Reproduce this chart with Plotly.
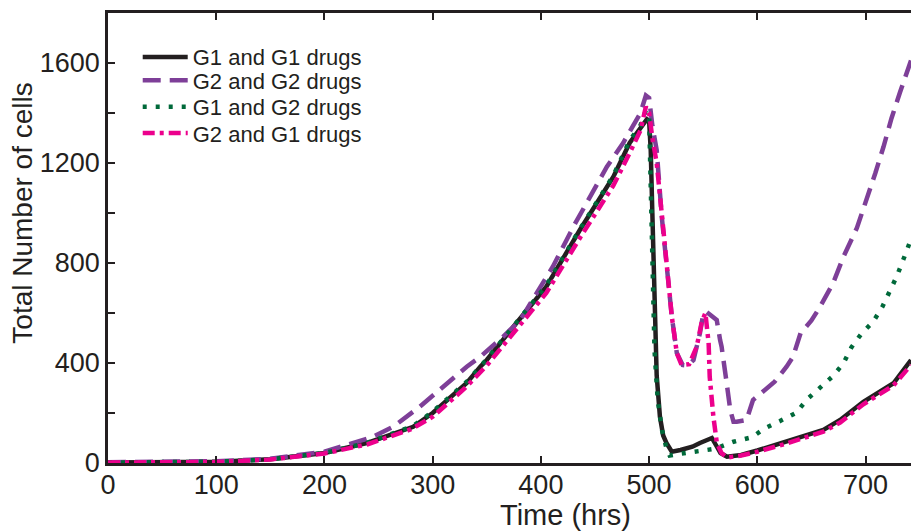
import plotly.graph_objects as go

# ---- data ----
t_g1g1 = [0, 50, 100, 150, 200, 239, 282, 300, 331.5, 344, 350, 374.6, 405, 436, 467, 482, 492, 498,
          500, 501.5, 503, 504, 505, 505.6, 507, 510, 513, 516, 521, 529, 540, 547, 558, 562, 566, 572,
          585, 600, 627, 661, 676.5, 698, 725.8, 742]
y_g1g1 = [2, 2, 5, 15, 40, 80, 145, 200, 320, 385, 412, 545, 705, 932, 1145, 1280, 1340, 1375,
          1370, 1250, 1000, 800, 600, 452, 350, 185, 110, 80, 45, 52, 65, 80, 100, 70, 40, 25,
          32, 50, 85, 132, 172, 245, 319, 412]

t_g2g2 = [0, 50, 100, 150, 200, 245, 263.6, 288, 331.5, 344, 365, 381, 396, 411, 430, 448, 461, 476,
          485, 492, 497, 500, 503, 507, 511.7, 516, 521, 525.6, 531, 536, 541, 547, 550, 553, 559,
          562.5, 565.6, 567, 571.7, 575, 578, 581, 590, 596, 616, 627, 633, 640, 650, 658, 670,
          679.6, 692, 701, 709, 716.6, 724, 732, 742]
y_g2g2 = [3, 3, 7, 17, 45, 105, 145, 225, 385, 425, 505, 572, 680, 785, 945, 1080, 1185, 1280,
          1345, 1400, 1470, 1460, 1350, 1252, 985, 785, 585, 440, 392, 390, 412, 520, 595, 605, 585,
          572, 492, 465, 319, 212, 165, 165, 172, 252, 325, 385, 425, 520, 570, 625, 719,
          825, 940, 1052, 1159, 1265, 1379, 1485, 1610]

t_g1g2 = [0, 50, 100, 150, 200, 239, 282, 300, 331.5, 350, 374.6, 405, 436, 467, 482, 492, 497,
          500, 501, 503, 505, 508, 512, 516, 519, 530, 540, 549, 558, 565.6, 578, 595, 607, 621, 636,
          646, 658, 670, 679.6, 687, 696.5, 707, 715.6, 722.7, 729, 735, 742]
y_g1g2 = [2, 2, 5, 15, 40, 80, 148, 205, 325, 415, 550, 710, 935, 1150, 1290, 1350, 1410,
          1390, 1200, 800, 450, 250, 130, 60, 30, 38, 45, 50, 55, 65, 85, 103, 139, 168, 201,
          255, 299, 348, 399, 463, 519, 565, 625, 689, 748, 815, 895]

t_g2g1 = [0, 50, 100, 150, 200, 240, 280, 300, 330, 350, 375, 405, 436, 467, 482, 492, 497,
          500, 503, 507, 512, 516, 521, 525.6, 530, 537, 541, 544, 548.7, 552, 555, 556, 559.4,
          562.6, 567, 572, 585, 600, 627, 661, 676.5, 698, 725.8, 742]
y_g2g1 = [2, 1, 4, 14, 38, 75, 135, 185, 300, 390, 520, 680, 900, 1110, 1240, 1330, 1425,
          1400, 1300, 1200, 985, 785, 585, 440, 392, 395, 430, 465, 565, 600, 480, 345, 185,
          80, 39, 22, 30, 45, 78, 125, 162, 235, 310, 392]

names = ["G1 and G1 drugs", "G2 and G2 drugs", "G1 and G2 drugs", "G2 and G1 drugs"]
x_ticks = [0, 100, 200, 300, 400, 500, 600, 700]
y_ticks = [0, 200, 400, 600, 800, 1000, 1200, 1400, 1600]
y_tick_text = ["0", "", "400", "", "800", "", "1200", "", "1600"]

# ---- styles ----
styles = [
    dict(color="#231f20", dash="solid"),
    dict(color="#7e3f98", dash="18px,9px"),
    dict(color="#00693a", dash="4px,9px"),
    dict(color="#ec008c", dash="12px,5px,4px,5px"),
]
series = [(t_g1g1, y_g1g1), (t_g2g2, y_g2g2), (t_g1g2, y_g1g2), (t_g2g1, y_g2g1)]
legend_ids = ["legend", "legend2", "legend3", "legend4"]
legend_y = [0.902, 0.850, 0.791, 0.733]

axis_color = "#231f20"
font_family = "Liberation Sans, Arial, sans-serif"

fig = go.Figure()
for (tx, ty), nm, st, lg in zip(series, names, styles, legend_ids):
    fig.add_trace(go.Scatter(x=tx, y=ty, mode="lines", name=nm, legend=lg,
                             line=dict(color=st["color"], dash=st["dash"], width=4.5)))

legend_layouts = {}
for lg, ly in zip(legend_ids, legend_y):
    legend_layouts[lg] = dict(x=0.037, y=ly, xanchor="left", yanchor="middle",
                              bgcolor="rgba(0,0,0,0)", borderwidth=0,
                              font=dict(size=22, family=font_family, color=axis_color),
                              itemwidth=45)

fig.update_layout(
    width=911, height=531,
    margin=dict(l=108, r=0, t=13, b=68),
    paper_bgcolor="white", plot_bgcolor="white",
    font=dict(family=font_family, color=axis_color),
    showlegend=True,
    xaxis=dict(range=[0, 742], tickvals=x_ticks, ticks="inside", ticklen=7, tickwidth=1.5,
               tickcolor=axis_color, showline=True, linecolor=axis_color, linewidth=2.5,
               mirror="ticks", showgrid=False, zeroline=False, ticklabelstandoff=-4,
               tickfont=dict(size=27, family=font_family, color=axis_color)),
    yaxis=dict(range=[0, 1800], tickvals=y_ticks, ticktext=y_tick_text, ticks="inside",
               ticklen=7, tickwidth=1.5, tickcolor=axis_color, showline=True,
               linecolor=axis_color, linewidth=2.5, mirror=False, showgrid=False,
               zeroline=False, tickfont=dict(size=27, family=font_family, color=axis_color)),
    annotations=[
        dict(text="Time (hrs)", xref="paper", yref="paper", x=0.570, y=-0.116,
             xanchor="center", yanchor="middle", showarrow=False,
             font=dict(size=29, family=font_family, color=axis_color)),
        dict(text="Total Number of cells", xref="paper", yref="paper", x=-0.106, y=0.556,
             xanchor="center", yanchor="middle", textangle=-90, showarrow=False,
             font=dict(size=28, family=font_family, color=axis_color)),
    ],
    **legend_layouts,
)

fig.write_html("out.html")
